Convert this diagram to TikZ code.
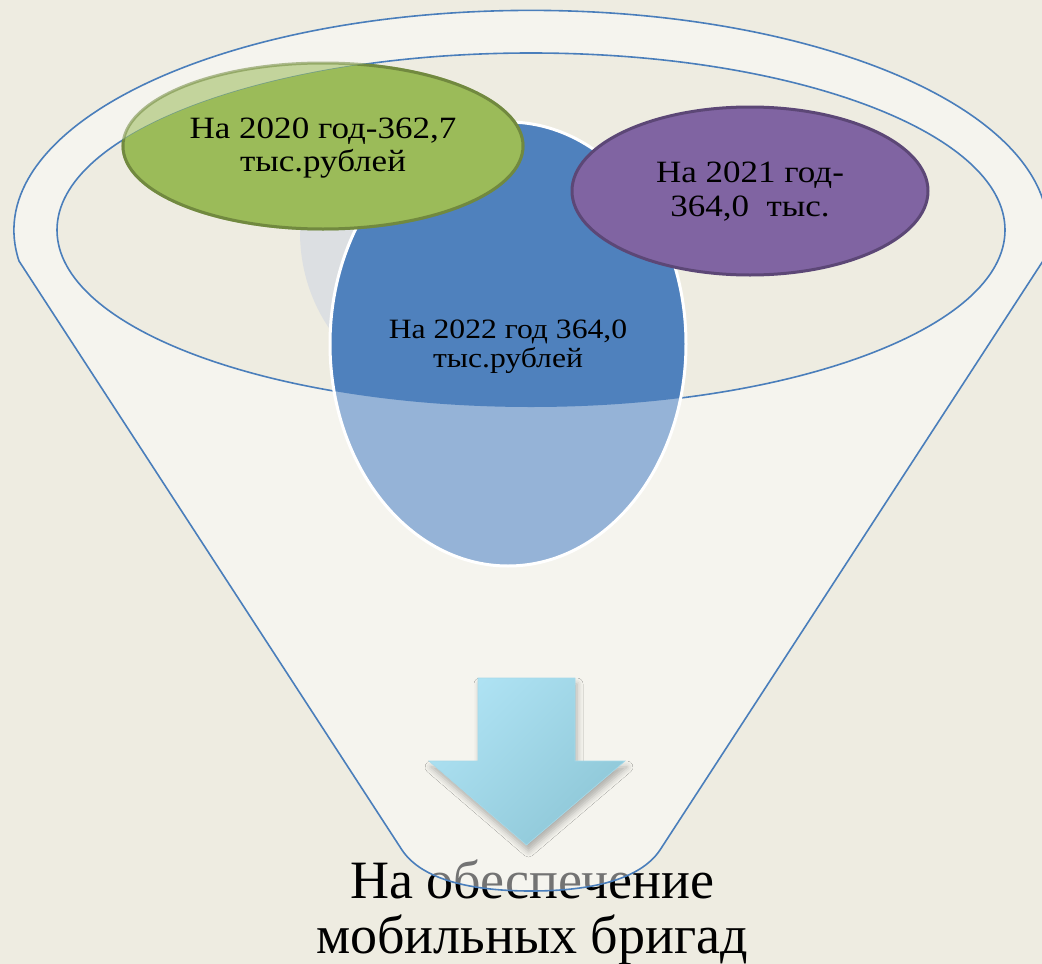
\documentclass[tikz,border=0pt]{standalone}
\usepackage{fontspec}
\setmainfont{Liberation Serif}
\newfontfamily\lblfont{Liberation Serif}[FakeStretch=1.13]
\usetikzlibrary{shadows.blur}
\definecolor{bg}{HTML}{EEECE1}
\definecolor{lineblue}{HTML}{4A7EBB}
\definecolor{grn}{HTML}{9BBB59}
\definecolor{grnB}{HTML}{71893F}
\definecolor{pur}{HTML}{8064A2}
\definecolor{purB}{HTML}{5C4776}
\definecolor{blu}{HTML}{4F81BD}
\definecolor{bluL}{HTML}{95B3D7}
\definecolor{gry}{HTML}{DCDFE2}
\definecolor{arrA}{HTML}{AEE2F3}
\definecolor{arrB}{HTML}{8EC7D7}
\definecolor{arrE}{HTML}{A6DAEA}
\begin{document}
\begin{tikzpicture}[x=1pt,y=-1pt,
  funnelline/.style={draw=lineblue, line width=1.6pt},
  lbl/.style={align=center, inner sep=0pt, text=black},
]
\useasboundingbox (0,0) rectangle (1042,964);
\fill[bg] (0,0) rectangle (1042,964);

% bottom caption (under the translucent funnel)
\node[lbl, font=\fontsize{54}{55}\selectfont] (cap) at (532,912) {На обеспечение\\мобильных бригад};

% funnel body
\fill[white, opacity=0.45] (19,261) arc[start angle=188, end angle=-8, x radius=517pt, y radius=220pt]
  -- (660,850) .. controls (640,880) and (590,891) .. (531,891)
  .. controls (472,891) and (422,880) .. (402,850) -- cycle;
\draw[funnelline] (19,261) arc[start angle=188, end angle=-8, x radius=517pt, y radius=220pt]
  -- (660,850) .. controls (640,880) and (590,891) .. (531,891)
  .. controls (472,891) and (422,880) .. (402,850) -- cycle;

% inner rim
\fill[bg] (531,230) ellipse [x radius=474pt, y radius=177pt];
\draw[funnelline] (531,230) ellipse [x radius=474pt, y radius=177pt];

% hidden grey ellipse
\begin{scope}
  \clip (280,200) rectangle (420,360);
  \fill[gry] (445,232) ellipse [x radius=145pt, y radius=160pt];
\end{scope}

% blue ellipse
\fill[bluL] (508,344) ellipse [x radius=178pt, y radius=222pt];
\begin{scope}
  \clip (531,230) ellipse [x radius=474pt, y radius=177pt];
  \fill[blu] (508,344) ellipse [x radius=178pt, y radius=222pt];
\end{scope}
\draw[white, line width=3pt] (508,344) ellipse [x radius=178pt, y radius=222pt];

% green ellipse
\draw[fill=grn, draw=grnB, line width=3pt, opacity=0.55] (323,146) ellipse [x radius=200pt, y radius=83pt];
\begin{scope}
  \clip (531,230) ellipse [x radius=474pt, y radius=177pt];
  \draw[fill=grn, draw=grnB, line width=3pt] (323,146) ellipse [x radius=200pt, y radius=83pt];
\end{scope}

% purple ellipse
\draw[fill=pur, draw=purB, line width=3pt] (750,191) ellipse [x radius=178pt, y radius=84pt];

% labels
\node[lbl, font=\lblfont\fontsize{31}{33}\selectfont] (t2020) at (323,148) {На 2020 год-362,7\\тыс.рублей};
\node[lbl, font=\lblfont\fontsize{31}{34}\selectfont] (t2021) at (750,192) {На 2021 год-\\364,0~~тыс.};
\node[lbl, font=\lblfont\fontsize{28}{29}\selectfont] (t2022) at (508,347) {На 2022 год 364,0\\тыс.рублей};

% down arrow
\draw[draw=arrE, line width=0.6pt, top color=arrA, bottom color=arrB, shading angle=45,
      blur shadow={shadow xshift=2pt, shadow yshift=-6pt, shadow blur radius=6pt, shadow opacity=28}]
  (478,678) -- (575,678) -- (575,761) -- (625,761) -- (526.5,845) -- (429,761) -- (478,761) -- cycle;
\end{tikzpicture}
\end{document}
